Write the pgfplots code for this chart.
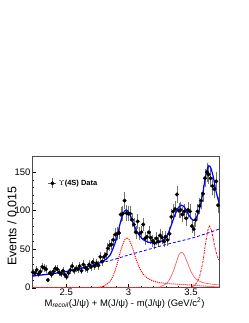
\documentclass[border=0pt]{standalone}
\usepackage{pgfplots}
\usepackage{pgfplotstable}
\pgfplotsset{compat=1.18}
\usepackage{fontspec}
\setmainfont{Liberation Sans}
\pgfplotstableread{
x y
2.2325 20
2.2475 19
2.2625 23
2.2775 18
2.2925 21
2.3075 27
2.3225 26
2.3375 24
2.3525 10
2.3675 19
2.3825 17
2.3975 21
2.4125 25
2.4275 24
2.4425 20
2.4575 18
2.4725 22
2.4875 17
2.5025 14
2.5175 19
2.5325 23
2.5475 28
2.5625 22
2.5775 25
2.5925 24
2.6075 28
2.6225 22
2.6375 30
2.6525 26
2.6675 24
2.6825 30
2.6975 27
2.7125 33
2.7275 28
2.7425 32
2.7575 29
2.7725 40
2.7875 34
2.8025 40
2.8175 43
2.8325 51
2.8475 55
2.8625 56
2.8775 62
2.8925 69
2.9075 70
2.9225 71
2.9375 95
2.9525 96
2.9675 113
2.9825 97
2.9975 96
3.0125 96
3.0275 88
3.0425 82
3.0575 72
3.0725 86
3.0875 70
3.1025 72
3.1175 82
3.1325 64
3.1475 66
3.1625 72
3.1775 65
3.1925 61
3.2075 58
3.2225 64
3.2375 60
3.2525 68
3.2675 65
3.2825 60
3.2975 66
3.3125 62
3.3275 70
3.3425 92
3.3575 99
3.3725 102
3.3875 121
3.4025 100
3.4175 101
3.4325 95
3.4475 99
3.4625 90
3.4775 101
3.4925 99
3.5075 80
3.5225 76
3.5375 88
3.5525 99
3.5675 106
3.5825 113
3.5975 122
3.6125 142
3.6275 150
3.6425 147
3.6575 142
3.6725 132
3.6875 128
3.7025 138
3.7175 107
}\datatable
\begin{document}
\begin{tikzpicture}
\path[use as bounding box] (-32bp,-35.3bp) rectangle (217bp,287.7bp);
\begin{axis}[
  width=187bp, height=131bp, scale only axis,
  xmin=2.225, xmax=3.725, ymin=0, ymax=170,
  xtick={2.5,3,3.5}, minor x tick num=4,
  ytick={0,50,100,150}, minor y tick num=4,
  xtick pos=bottom, ytick pos=left,
  tick align=inside,
  major tick length=4bp, minor tick length=2bp,
  axis line style={black!70, line width=0.5bp},
  tick style={black, line width=0.4bp},
  /pgf/number format/assume math mode=true,
  xticklabel style={font=\fontsize{9.5}{11}\selectfont, inner sep=1bp},
  yticklabel style={font=\fontsize{9.5}{11}\selectfont, inner sep=1.5bp},
  xlabel={M\textsubscript{\itshape recoil}(J/ψ) + M(J/ψ) - m(J/ψ) (GeV/c\textsuperscript{2})},
  xlabel style={at={(axis description cs:0.495,-0.117)}, anchor=center, font=\fontsize{9.5}{11}\selectfont},
  ylabel={Events / 0.015},
  ylabel style={at={(axis description cs:-0.107,0.47)}, anchor=center, font=\fontsize{12.5}{14}\selectfont},
  legend style={draw=none, fill=none, at={(axis description cs:0.0856,0.797)}, anchor=west,
    font=\bfseries\fontsize{7.5}{9}\selectfont, inner sep=0pt, row sep=0pt},
  legend cell align=left,
]
\addplot[only marks, mark=*, mark size=1.8bp, black,
  legend image code/.code={
    \draw[black!60, line width=0.5bp] (0bp,0bp) -- (8bp,0bp);
    \draw[black!60, line width=0.5bp] (4bp,-5bp) -- (4bp,5bp);
    \fill[black] (4bp,0bp) circle (1.8bp);
  },
  error bars/.cd, y dir=both, y explicit, error mark=none,
  error bar style={black!55, line width=0.5bp}]
  table[x=x, y=y, y error expr=sqrt(\thisrow{y})] {\datatable};
\addlegendentry{$\Upsilon$(4S) Data}
% peak 1 (red dotted)
\addplot[red, line width=1bp, densely dotted, smooth, tension=0.4, forget plot] coordinates {
(2.225,0) (2.70,0) (2.75,0.3) (2.8,2) (2.85,8) (2.88,17) (2.91,32) (2.94,50) (2.965,61) (2.985,65) (3.005,62) (3.03,52) (3.06,37) (3.09,25) (3.12,17) (3.16,11.5) (3.2,8.5) (3.25,6.5) (3.3,5.5) (3.4,4.5) (3.5,3.5) (3.6,2.2) (3.725,0.8)};
% peak 2 (red solid)
\addplot[red!70, line width=0.6bp, smooth, tension=0.4, forget plot] coordinates {
(2.225,0) (3.2,0) (3.25,1) (3.3,5) (3.33,11) (3.36,22) (3.385,34) (3.405,43) (3.425,46) (3.445,43) (3.47,33) (3.5,21) (3.53,13) (3.56,9) (3.6,6.5) (3.65,5) (3.725,3.5)};
% peak 3 (red dash-dot)
\addplot[red, line width=0.8bp, dash pattern=on 2bp off 1bp on 0.6bp off 1bp, smooth, tension=0.4, forget plot] coordinates {
(2.225,0) (3.45,0) (3.5,1) (3.54,5) (3.57,15) (3.595,33) (3.615,55) (3.635,74) (3.648,80) (3.665,74) (3.685,58) (3.705,44) (3.725,35)};
% background (blue dashed)
\addplot[blue, line width=0.8bp, dash pattern=on 3bp off 2bp, smooth, forget plot] coordinates {
(2.225,15) (2.3,16.5) (2.4,18.5) (2.5,21) (2.6,24.5) (2.7,28.5) (2.8,33) (2.9,37.5) (3.0,42.5) (3.1,47) (3.2,51.5) (3.3,56) (3.4,60) (3.5,64) (3.6,69) (3.725,76)};
% total fit (blue solid)
\addplot[blue, line width=1.2bp, smooth, tension=0.5, forget plot] coordinates {
(2.225,15) (2.3,16.5) (2.4,18.5) (2.5,21) (2.6,24.5) (2.7,28.5) (2.75,31) (2.8,35) (2.85,42) (2.9,62) (2.93,82) (2.955,96) (2.98,101) (3.005,97) (3.03,87) (3.06,75) (3.09,67) (3.12,62) (3.15,59.5) (3.2,58) (3.25,59) (3.28,62) (3.31,68) (3.34,80) (3.37,94) (3.4,104) (3.425,107) (3.45,104) (3.48,95) (3.51,88.5) (3.53,88) (3.56,97) (3.59,118) (3.615,142) (3.64,158) (3.66,155) (3.68,143) (3.70,126) (3.725,110)};
\end{axis}
\end{tikzpicture}
\end{document}
